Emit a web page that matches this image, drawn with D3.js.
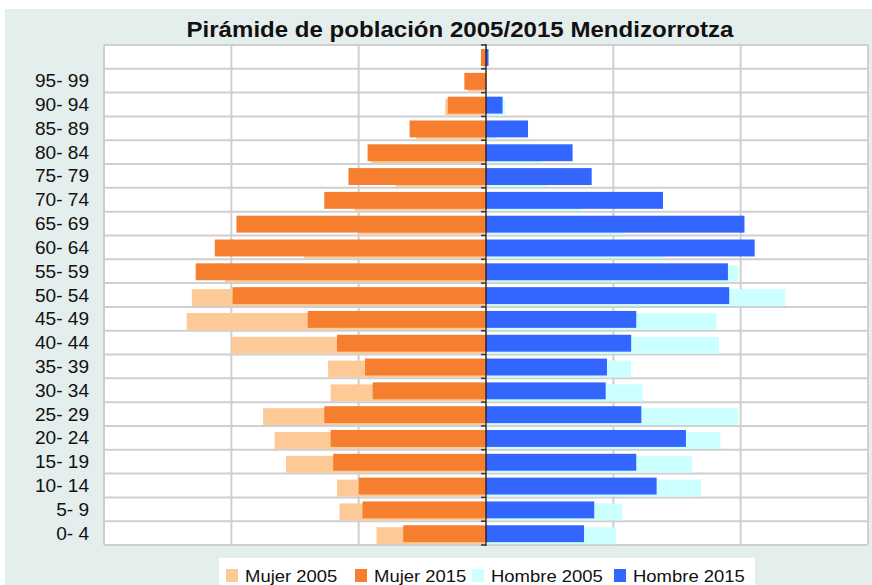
<!DOCTYPE html>
<html>
<head>
<meta charset="utf-8">
<script src="https://cdn.jsdelivr.net/npm/d3@7"></script>
<style>
  body { margin: 0; background: #fff; }
  text { font-family: "Liberation Sans", Arial, sans-serif; }
</style>
</head>
<body>
<script>
// age groups, bottom to top (last one has no label in the original)
var ageGroups = ["0- 4","5- 9","10- 14","15- 19","20- 24","25- 29","30- 34","35- 39","40- 44","45- 49",
                 "50- 54","55- 59","60- 64","65- 69","70- 74","75- 79","80- 84","85- 89","90- 94","95- 99","100+"];
var ageLabels = ["0- 4","5- 9","10- 14","15- 19","20- 24","25- 29","30- 34","35- 39","40- 44","45- 49",
                 "50- 54","55- 59","60- 64","65- 69","70- 74","75- 79","80- 84","85- 89","90- 94","95- 99",""];

var mujer2005  = [86,115,117,157,166,175,122,124,200,235,231,205,143,100,103,71,90,55,32,14,2];
var mujer2015  = [65,97,100,120,122,127,89,95,117,140,199,228,213,196,127,108,93,60,30,17,4];
var hombre2005 = [102,107,169,162,184,198,123,114,183,181,235,198,141,108,75,49,44,9,15,0,1];
var hombre2015 = [77,85,134,118,157,122,94,95,114,118,191,190,211,203,139,83,68,33,13,0,2];

var xTicks = [-300,-200,-100,0,100,200,300];

var seriesNames = ["Mujer 2005","Mujer 2015","Hombre 2005","Hombre 2015"];
var seriesColors = ["#fdc996","#f57f2f","#ccffff","#3366ff"];

var width = 872, height = 585;

var svg = d3.select("body").append("svg")
  .attr("width", width)
  .attr("height", height);

// panel background
svg.append("rect")
  .attr("x", 5).attr("y", 9)
  .attr("width", width - 5).attr("height", height - 9)
  .attr("fill", "#e4eeec");

// the original text is a bit wider than the font, stretch it horizontally
svg.append("text")
  .attr("transform", "translate(460,37) scale(1.12,1)")
  .attr("text-anchor", "middle")
  .attr("font-size", 21.5)
  .attr("font-weight", "bold")
  .attr("fill", "#111")
  .text("Pirámide de población 2005/2015 Mendizorrotza");

var plot = {left: 104, right: 868, top: 45, bottom: 545};

var x = d3.scaleLinear().domain([-300, 300]).range([plot.left, plot.right]);
var y = d3.scaleBand().domain(ageGroups.slice().reverse()).range([plot.top, plot.bottom]).padding(0);

svg.append("rect")
  .attr("x", plot.left).attr("y", plot.top)
  .attr("width", plot.right - plot.left).attr("height", plot.bottom - plot.top)
  .attr("fill", "#fff");

// grid
var bounds = d3.range(ageGroups.length + 1).map(function (i) { return plot.top + i * y.step(); });

svg.append("g").selectAll("line.h")
  .data(bounds)
  .enter().append("line")
  .attr("x1", plot.left).attr("x2", plot.right)
  .attr("y1", function (d) { return d; }).attr("y2", function (d) { return d; })
  .attr("stroke", "#cfcfcf").attr("stroke-width", 2);

svg.append("g").selectAll("line.v")
  .data(xTicks)
  .enter().append("line")
  .attr("x1", function (d) { return x(d); }).attr("x2", function (d) { return x(d); })
  .attr("y1", plot.top).attr("y2", plot.bottom)
  .attr("stroke", "#cfcfcf").attr("stroke-width", 2);

// bars
var barH = y.step() * 0.71;
var barTop = y.step() * 0.17;

function drawBars(values, color, sign, shift) {
  svg.append("g").selectAll("rect")
    .data(values)
    .enter().append("rect")
    .attr("x", function (d) { return sign < 0 ? x(-d) : x(0); })
    .attr("y", function (d, i) { return y(ageGroups[i]) + barTop + shift; })
    .attr("width", function (d) { return Math.abs(x(d) - x(0)); })
    .attr("height", barH)
    .attr("fill", color);
}

drawBars(mujer2005, seriesColors[0], -1, 2);
drawBars(hombre2005, seriesColors[2], 1, 2);
drawBars(mujer2015, seriesColors[1], -1, 0);
drawBars(hombre2015, seriesColors[3], 1, 0);

// central axis with ticks at group boundaries
svg.append("line")
  .attr("x1", x(0)).attr("x2", x(0))
  .attr("y1", plot.top - 1).attr("y2", plot.bottom + 1)
  .attr("stroke", "#111").attr("stroke-width", 1.2);

svg.append("g").selectAll("line")
  .data(bounds)
  .enter().append("line")
  .attr("x1", x(0) - 5).attr("x2", x(0))
  .attr("y1", function (d) { return d; }).attr("y2", function (d) { return d; })
  .attr("stroke", "#333").attr("stroke-width", 1.5);

// age labels
svg.append("g").selectAll("text")
  .data(ageGroups)
  .enter().append("text")
  .attr("transform", function (d) {
    return "translate(89," + (y(d) + y.step() / 2 + 6.5) + ") scale(1.06,1)";
  })
  .attr("text-anchor", "end")
  .attr("font-size", 18)
  .attr("fill", "#111")
  .text(function (d, i) { return ageLabels[i]; });

// legend
svg.append("rect")
  .attr("x", 219).attr("y", 558)
  .attr("width", 536).attr("height", 30)
  .attr("fill", "#fff");

var legendX = [226, 355, 472, 614];
var legend = svg.append("g").selectAll("g")
  .data(seriesNames)
  .enter().append("g")
  .attr("transform", function (d, i) { return "translate(" + legendX[i] + ",569)"; });

legend.append("rect")
  .attr("width", 12).attr("height", 13)
  .attr("fill", function (d, i) { return seriesColors[i]; });

legend.append("text")
  .attr("transform", "translate(19,12.5) scale(1.12,1)")
  .attr("font-size", 16.5)
  .attr("fill", "#111")
  .text(function (d) { return d; });
</script>
</body>
</html>
